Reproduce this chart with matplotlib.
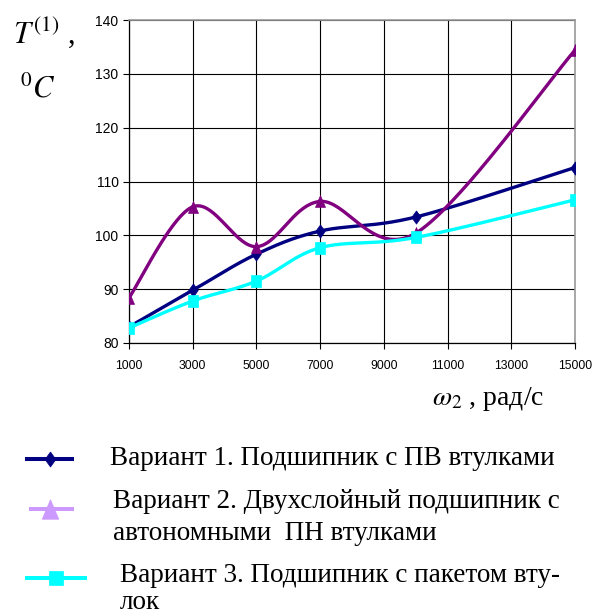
import numpy as np
import matplotlib
matplotlib.use("Agg")
import matplotlib.pyplot as plt
from matplotlib.lines import Line2D

# Data
omega = [1000, 3000, 5000, 7000, 10000, 15000]
var1 = [83.0, 89.8, 96.5, 100.8, 103.4, 112.6]
var2 = [88.4, 105.3, 97.9, 106.3, 100.4, 134.4]
var3 = [82.8, 87.8, 91.5, 97.7, 99.6, 106.6]

x_ticks = [1000, 3000, 5000, 7000, 9000, 11000, 13000, 15000]
y_ticks = [80, 90, 100, 110, 120, 130, 140]

legend_lines = [
    ["Вариант 1. Подшипник с ПВ втулками"],
    ["Вариант 2. Двухслойный подшипник с", "автономными  ПН втулками"],
    ["Вариант 3. Подшипник с пакетом вту-", "лок"],
]

plt.rcParams["mathtext.fontset"] = "stix"
SERIF = ["Liberation Serif", "DejaVu Serif"]
SANS = ["Liberation Sans", "DejaVu Sans"]

W, H = 599, 614

# markers a bit taller than wide, as in the reference
DIAMOND = [(0, 1), (0.72, 0), (0, -1), (-0.72, 0), (0, 1)]
SQUARE = [(-0.8, -1), (0.8, -1), (0.8, 1), (-0.8, 1), (-0.8, -1)]
TRIANGLE = [(0, 1), (0.85, -1), (-0.85, -1), (0, 1)]


def excel_smooth(x, y, n=40):
    # Bezier smoothing like the spreadsheet "smoothed line" option
    pts = np.column_stack([x, y]).astype(float)
    P = np.vstack([pts[0], pts, pts[-1]])
    out = []
    t = np.linspace(0, 1, n)[:, None]
    for i in range(len(pts) - 1):
        p0, p1, p2, p3 = P[i], P[i + 1], P[i + 2], P[i + 3]
        c1 = p1 + (p2 - p0) / 6
        c2 = p2 - (p3 - p1) / 6
        seg = (1 - t) ** 3 * p1 + 3 * (1 - t) ** 2 * t * c1 + 3 * (1 - t) * t ** 2 * c2 + t ** 3 * p2
        out.append(seg if i == 0 else seg[1:])
    s = np.vstack(out)
    return s[:, 0], s[:, 1]


fig = plt.figure(figsize=(W / 100, H / 100), dpi=100)
ax = fig.add_axes([129 / W, 1 - 343 / H, (575 - 129) / W, (343 - 20) / H])

styles = [
    (var1, "#000080", DIAMOND, 9.5),
    (var2, "#800080", TRIANGLE, 8.5),
    (var3, "#00FFFF", SQUARE, 8.5),
]
for vals, col, mk, ms in styles:
    sx, sy = excel_smooth(omega, vals)
    ax.plot(sx, sy, color=col, lw=2.4, solid_capstyle="round", solid_joinstyle="round", zorder=3)
    ax.plot(omega, vals, ls="none", marker=mk, ms=ms, color=col, mec=col, mew=0.5, zorder=4)

ax.set_xlim(1000, 15000)
ax.set_ylim(80, 140)
ax.set_xticks(x_ticks)
ax.set_yticks(y_ticks)
ax.grid(True, color="black", lw=0.8, zorder=1)
ax.set_axisbelow(True)
for side in ["top", "right"]:
    ax.spines[side].set_color("#999999")
    ax.spines[side].set_linewidth(1.2)
for side in ["left", "bottom"]:
    ax.spines[side].set_color("black")
    ax.spines[side].set_linewidth(0.9)

ax.tick_params(axis="y", length=4, width=0.8, pad=3.5)
ax.tick_params(axis="x", length=4, width=0.8, pad=8.5)
for lab in ax.get_yticklabels():
    lab.set_family(SANS)
    lab.set_fontsize(10)
for lab in ax.get_xticklabels():
    lab.set_family(SANS)
    lab.set_fontsize(8.7)

# axis labels
fig.text(13 / W, 1 - 43 / H, r"$T^{(1)}$ ,", fontsize=22, family=SERIF, va="baseline", ha="left")
fig.text(20 / W, 1 - 97 / H, r"${}^{0}C$", fontsize=22, family=SERIF, va="baseline", ha="left")
fig.text(432 / W, 1 - 405 / H, r"$\omega_2$ , рад/с", fontsize=20, family=SERIF, va="baseline", ha="left")

# legend drawn by hand below the chart
leg = [
    (27, 72, 50, 459, "#000080", DIAMOND, 10.8, 110, [465]),
    (31, 72, 50, 509, "#CC99FF", TRIANGLE, 14, 113, [508, 540]),
    (27, 85, 56, 578, "#00FFFF", "s", 10.5, 120, [582, 609]),
]
for (x0, x1, xm, yl, col, mk, ms, tx, tys), lines in zip(leg, legend_lines):
    yf = 1 - yl / H
    fig.add_artist(Line2D([x0 / W, x1 / W], [yf, yf], color=col, lw=2.9, transform=fig.transFigure))
    fig.add_artist(Line2D([xm / W], [yf], marker=mk, ms=ms, color=col, mec=col, mew=0.5,
                          transform=fig.transFigure))
    for ty, text in zip(tys, lines):
        fig.text(tx / W, 1 - ty / H, text, fontsize=19.5, family=SERIF, va="baseline", ha="left")

fig.savefig("out.png", dpi=100)
